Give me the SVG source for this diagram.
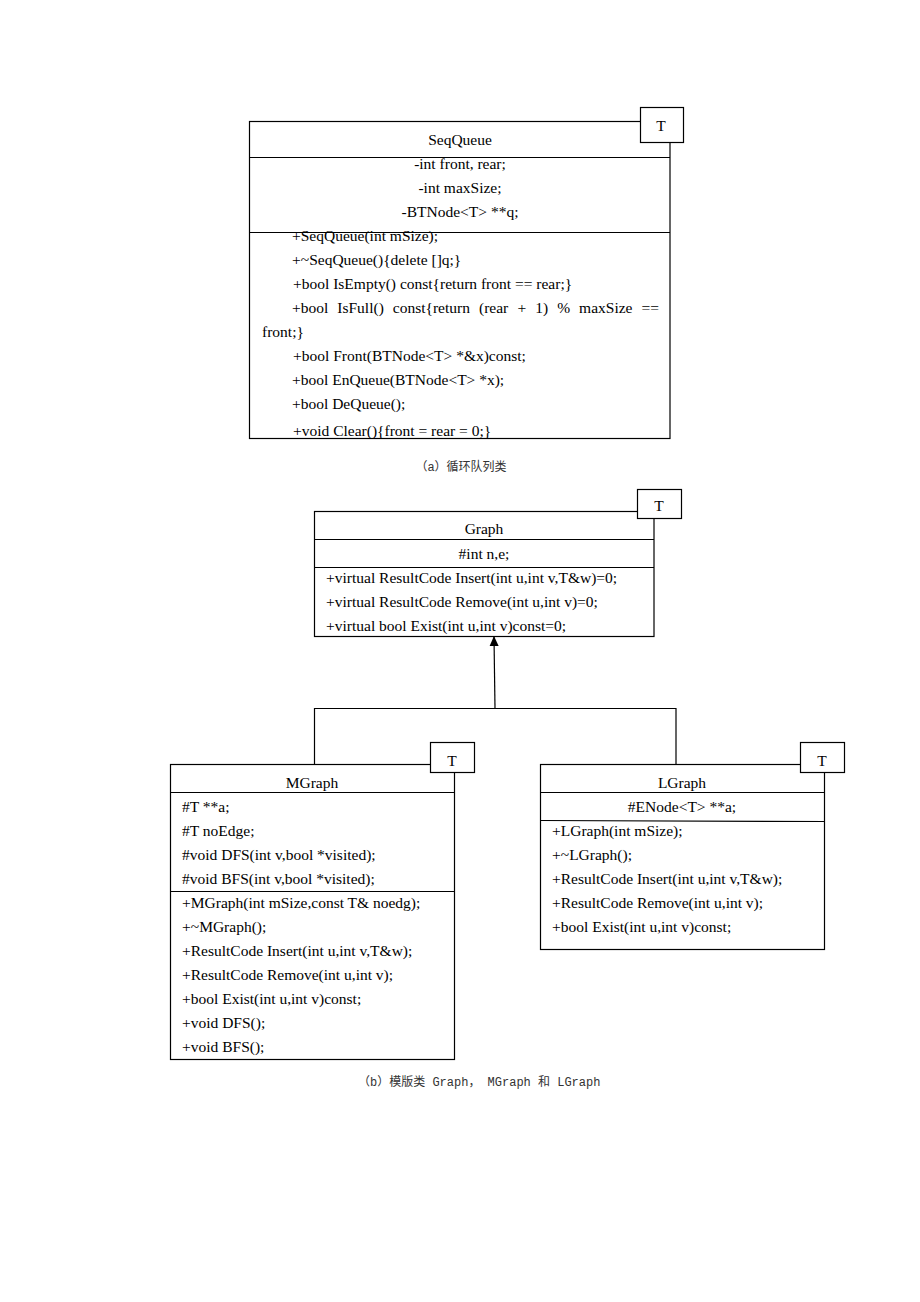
<svg xmlns="http://www.w3.org/2000/svg" width="920" height="1302" viewBox="0 0 920 1302">
<style>
.box{fill:#fff;stroke:#000;stroke-width:1.2}
.ln{stroke:#000;stroke-width:1.2;fill:none}
.t{font-family:"Liberation Serif","Times New Roman",serif;font-size:15.5px;fill:#000}
.c{text-anchor:middle}
.cap{font-family:"Liberation Mono","Noto Sans CJK SC",monospace;font-size:12px;fill:#333}
</style>
<defs>
<marker id="arr" markerWidth="10" markerHeight="10" refX="9" refY="5" orient="auto" markerUnits="userSpaceOnUse" viewBox="0 0 10 10">
<path d="M0,0.5 L10,5 L0,9.5 Z" fill="#000"/>
</marker>
<clipPath id="sqclip"><rect x="249" y="121" width="421" height="317"/></clipPath>
</defs>
<rect width="920" height="1302" fill="#fff"/>

<g id="SeqQueue">
<rect class="box" x="249.5" y="121.5" width="420.5" height="317"/>
<rect class="box" x="640.5" y="107.5" width="43" height="35"/>
<text class="t c" x="661" y="131">T</text>
<line class="ln" x1="249.5" y1="157.5" x2="670" y2="157.5"/>
<line class="ln" x1="249.5" y1="232.5" x2="670" y2="232.5"/>
<text class="t c" x="460" y="145">SeqQueue</text>
<text class="t c" x="460" y="169">-int front, rear;</text>
<text class="t c" x="460" y="193">-int maxSize;</text>
<text class="t c" x="460" y="217">-BTNode&lt;T&gt; **q;</text>
<g clip-path="url(#sqclip)">
<text class="t" x="292" y="241">+SeqQueue(int mSize);</text>
<text class="t" x="292" y="265">+~SeqQueue(){delete []q;}</text>
<text class="t" x="293" y="289">+bool IsEmpty() const{return front == rear;}</text>
<text class="t" y="313"><tspan x="292">+bool</tspan><tspan x="337.3">IsFull()</tspan><tspan x="392.8">const{return</tspan><tspan x="479">(rear</tspan><tspan x="517.6">+</tspan><tspan x="535.3">1)</tspan><tspan x="557.2">%</tspan><tspan x="579.1">maxSize</tspan><tspan x="641.5">==</tspan></text>
<text class="t" x="262" y="337">front;}</text>
<text class="t" x="293" y="361">+bool Front(BTNode&lt;T&gt; *&amp;x)const;</text>
<text class="t" x="292" y="385">+bool EnQueue(BTNode&lt;T&gt; *x);</text>
<text class="t" x="292" y="409">+bool DeQueue();</text>
<text class="t" x="293" y="436">+void Clear(){front = rear = 0;}</text>
</g>
</g>

<text class="cap c" x="461" y="471">（a）循环队列类</text>

<g id="Graph">
<rect class="box" x="314.5" y="511.5" width="339.5" height="125"/>
<rect class="box" x="637.5" y="489.5" width="44" height="29"/>
<text class="t c" x="659" y="511">T</text>
<line class="ln" x1="314.5" y1="539.5" x2="654" y2="539.5"/>
<line class="ln" x1="314.5" y1="567.5" x2="654" y2="567.5"/>
<text class="t c" x="484" y="534">Graph</text>
<text class="t c" x="484" y="559">#int n,e;</text>
<text class="t" x="326" y="583">+virtual ResultCode Insert(int u,int v,T&amp;w)=0;</text>
<text class="t" x="326" y="607">+virtual ResultCode Remove(int u,int v)=0;</text>
<text class="t" x="326" y="631">+virtual bool Exist(int u,int v)const=0;</text>
</g>

<g id="connectors">
<line class="ln" x1="495" y1="708.5" x2="494" y2="637" marker-end="url(#arr)"/>
<polyline class="ln" points="314.5,764 314.5,708.5 676,708.5 676,764"/>
</g>

<g id="MGraph">
<rect class="box" x="170.5" y="764.5" width="284" height="295"/>
<rect class="box" x="430.5" y="742.5" width="44" height="30"/>
<text class="t c" x="452" y="766">T</text>
<line class="ln" x1="170.5" y1="792.5" x2="454.5" y2="792.5"/>
<line class="ln" x1="170.5" y1="891.5" x2="454.5" y2="891.5"/>
<text class="t c" x="312" y="788">MGraph</text>
<text class="t" x="182" y="812">#T **a;</text>
<text class="t" x="182" y="836">#T noEdge;</text>
<text class="t" x="182" y="860">#void DFS(int v,bool *visited);</text>
<text class="t" x="182" y="884">#void BFS(int v,bool *visited);</text>
<text class="t" x="182" y="908">+MGraph(int mSize,const T&amp; noedg);</text>
<text class="t" x="182" y="932">+~MGraph();</text>
<text class="t" x="182" y="956">+ResultCode Insert(int u,int v,T&amp;w);</text>
<text class="t" x="182" y="980">+ResultCode Remove(int u,int v);</text>
<text class="t" x="182" y="1004">+bool Exist(int u,int v)const;</text>
<text class="t" x="182" y="1028">+void DFS();</text>
<text class="t" x="182" y="1052">+void BFS();</text>
</g>

<g id="LGraph">
<rect class="box" x="540.5" y="764.5" width="284" height="185"/>
<rect class="box" x="800.5" y="742.5" width="44" height="30"/>
<text class="t c" x="822" y="766">T</text>
<line class="ln" x1="540.5" y1="792.5" x2="824.5" y2="792.5"/>
<line class="ln" x1="540.5" y1="820.5" x2="824.5" y2="821.5"/>
<text class="t c" x="682" y="788">LGraph</text>
<text class="t c" x="682" y="812">#ENode&lt;T&gt; **a;</text>
<text class="t" x="552" y="836">+LGraph(int mSize);</text>
<text class="t" x="552" y="860">+~LGraph();</text>
<text class="t" x="552" y="884">+ResultCode Insert(int u,int v,T&amp;w);</text>
<text class="t" x="552" y="908">+ResultCode Remove(int u,int v);</text>
<text class="t" x="552" y="932">+bool Exist(int u,int v)const;</text>
</g>

<text class="cap" x="358" y="1086" font-size="11.6">（b）模版类 Graph，  MGraph 和 LGraph</text>
</svg>
